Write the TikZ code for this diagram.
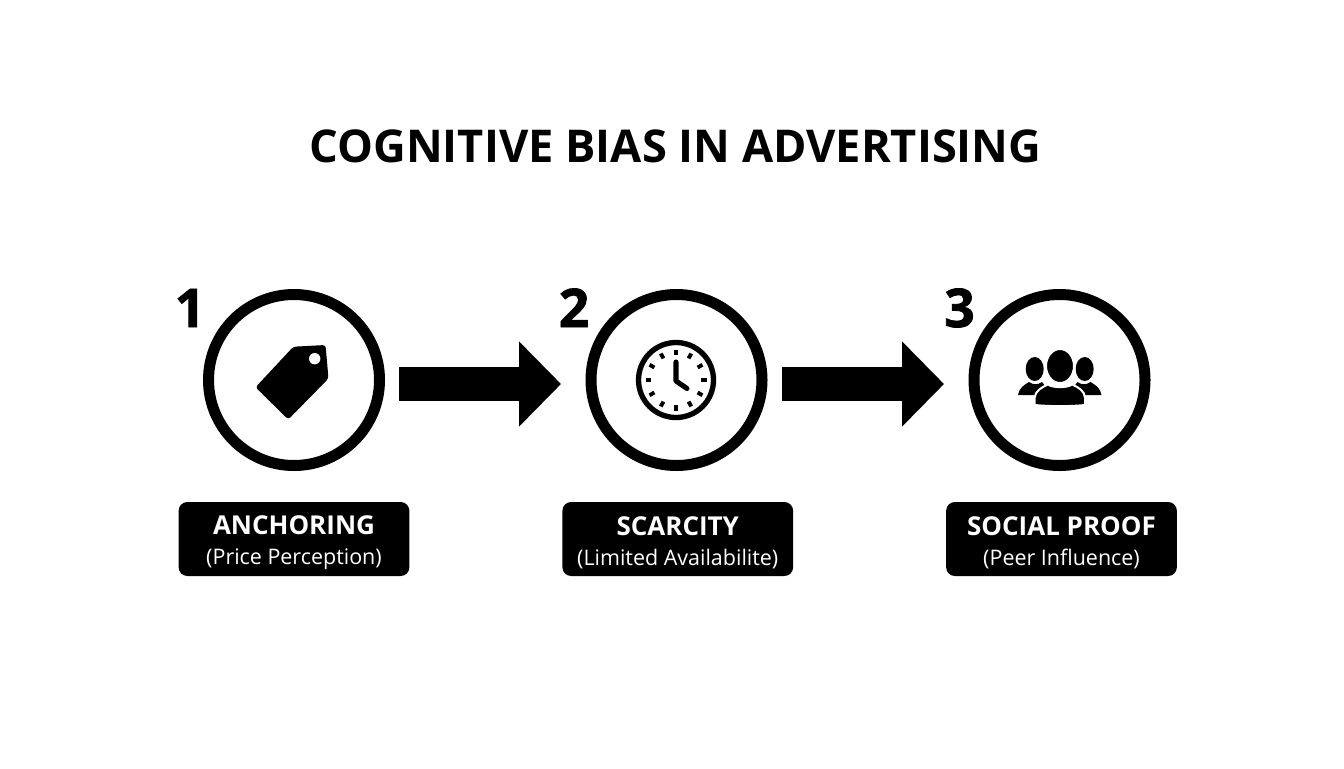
\documentclass[tikz,border=0pt]{standalone}
\usepackage{fontspec}
\setmainfont{Open Sans}
\newfontface\heavyfont[FakeBold=1.5]{Open Sans Bold}
\usetikzlibrary{arrows.meta,calc}
\tikzset{
  px/.style={x=0.75pt,y=-0.75pt},
  ring/.style={circle,draw=black,line width=8.25pt,fill=white,minimum size=128.25pt,inner sep=0pt},
  flow/.style={line width=25.5pt,draw=black,-{Triangle[length=31.5pt,width=62pt]},shorten <=78.75pt,shorten >=86.6pt},
  labelbox/.style={rectangle,rounded corners=6.5pt,fill=black,text=white,minimum width=173pt,minimum height=55.5pt,inner sep=0pt,align=center,font=\fontsize{16.1}{22.5}\selectfont},
  numeral/.style={anchor=base,text=black,font=\heavyfont\fontsize{40}{40}\selectfont},
  titletext/.style={text=black,font=\bfseries\fontsize{33.9}{36}\selectfont},
  person/.style={fill=black,draw=white,line width=1.5pt},
}
\newcommand{\boxhead}[1]{\rule{0pt}{19.5pt}{\bfseries\fontsize{19.5}{22}\selectfont #1}}
\begin{document}
\begin{tikzpicture}[px]
\useasboundingbox (0,0) rectangle (1344,768);
\node[titletext] (title) at (675.5,146) {COGNITIVE BIAS IN ADVERTISING};

\node[ring] (c1) at (294,380) {};
\node[ring] (c2) at (676.5,380) {};
\node[ring] (c3) at (1059.5,380) {};

\draw[flow] ([yshift=-3pt]c1.center) -- ([yshift=-3pt]c2.center);
\draw[flow] ([yshift=-3pt]c2.center) -- ([yshift=-3pt]c3.center);

\node[numeral] (n1) at (190,327) {1};
\node[numeral] (n2) at (574,327) {2};
\node[numeral] (n3) at (959.5,327) {3};

% tag icon
\fill[black,rounded corners=2.2pt] (293.3,346.7) -- (325.5,345) -- (328.5,378.5) -- (288.3,419.5) -- (255.5,387.3) -- cycle;
\fill[white] (314.7,358.7) circle [radius=5.7];

% clock icon
\draw[black,line width=4pt,fill=white] (676,380) circle [radius=37.5];
\foreach \a in {0,30,...,330}
  \draw[black,line width=2.9pt] ($(676,380)+(\a:25)$) -- ($(676,380)+(\a:30.5)$);
\draw[black,line width=3.8pt,line cap=round,line join=round] (676,362) -- (676,381) -- (687,388.5);

% people icon
\begin{scope}
\fill[black] (1034.7,369) ellipse [x radius=9,y radius=12];
\fill[black] (1084.7,369) ellipse [x radius=9,y radius=12];
\fill[black] (1018,395) .. controls (1019,388) and (1024,385) .. (1029,382) .. controls (1033,385) and (1038,385) .. (1042,382) -- (1050,392) -- (1040,395) -- cycle;
\fill[black] (1101.5,395) .. controls (1100.5,388) and (1095.5,385) .. (1090.5,382) .. controls (1086.5,385) and (1081.5,385) .. (1077.5,382) -- (1069.5,392) -- (1079.5,395) -- cycle;
\draw[person] (1060,366) ellipse [x radius=14,y radius=17];
\draw[person] (1034.5,405) -- (1034.5,398) .. controls (1035,391) and (1042,387) .. (1048,384.5) .. controls (1053,388) and (1067,388) .. (1072,384.5) .. controls (1078,387) and (1085,391) .. (1085,398) -- (1085,405) .. controls (1070,406.5) and (1050,406.5) .. cycle;
\end{scope}

\node[labelbox] (b1) at (294,539) {\boxhead{ANCHORING}\\(Price Perception)};
\node[labelbox] (b2) at (677.75,539) {\boxhead{SCARCITY}\\(Limited Availabilite)};
\node[labelbox] (b3) at (1061.5,539) {\boxhead{SOCIAL PROOF}\\(Peer Influence)};
\end{tikzpicture}
\end{document}
